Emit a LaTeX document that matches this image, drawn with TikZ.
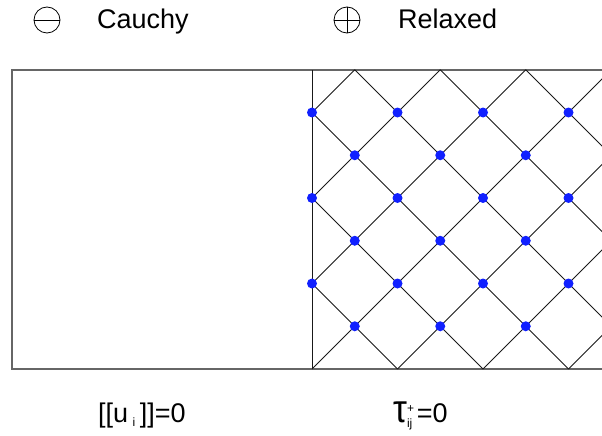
\documentclass[tikz,border=0pt]{standalone}
\usepackage{fontspec}
\setmainfont{Liberation Sans}
\definecolor{ptblue}{RGB}{16,32,255}
\newcommand{\smallidx}[1]{{\fontsize{12}{12}\selectfont #1}}
\tikzset{
	frame/.style={draw=black!60, line width=1.5pt},
	mesh/.style={draw=black!90, line width=0.9pt},
	gpoint/.style={fill=ptblue},
	legend/.style={circle, draw, minimum size=26pt, line width=0.8pt},
	caption/.style={anchor=base west, font=\fontsize{27}{32}\selectfont}
}
\begin{document}
\begin{tikzpicture}[x=1pt, y=-1pt, every node/.style={inner sep=0pt}]
	\useasboundingbox (0,0) rectangle (602,436);
	\node[legend] (minus) at (47,20) {};
	\draw[line width=0.8pt] (minus.west) -- (minus.east);
	\node[caption] (cauchy) at (97,28.5) {Cauchy};
	\node[legend] (plus) at (347,20) {};
	\draw[line width=0.8pt] (plus.west) -- (plus.east);
	\draw[line width=0.8pt] (plus.north) -- (plus.south);
	\node[caption] (relaxed) at (398,28.5) {Relaxed};
	\draw[frame] (602,70) -| (12,369) -- (602,369);
	\begin{scope}[shift={(312,369)}, x=42.75pt, y=42.75pt]
		\begin{scope}
			\clip (0,0) rectangle (6.79,7);
			\foreach \c in {-6,-4,...,6}
				\draw[mesh] (\c,0) -- (\c+7,7);
			\foreach \c in {2,4,...,12}
				\draw[mesh] (\c,0) -- (\c-7,7);
		\end{scope}
		\draw[mesh] (0,0) -- (0,7);
		\foreach \y in {2,4,6}
			\foreach \x in {0,2,4,6}
				\fill[gpoint] (\x,\y) circle (5pt);
		\foreach \y in {1,3,5}
			\foreach \x in {1,3,5}
				\fill[gpoint] (\x,\y) circle (5pt);
	\end{scope}
	\node[caption] (jump) at (98,422) {[[u\,\raisebox{-4pt}{\smallidx{i}}\,]]=0};
	\node[caption] (traction) at (393,422) {\scalebox{1.3}[1.45]{τ}\rlap{\raisebox{10pt}{\smallidx{+}}}\raisebox{-5pt}{\smallidx{ij}}\,=0};
\end{tikzpicture}
\end{document}
